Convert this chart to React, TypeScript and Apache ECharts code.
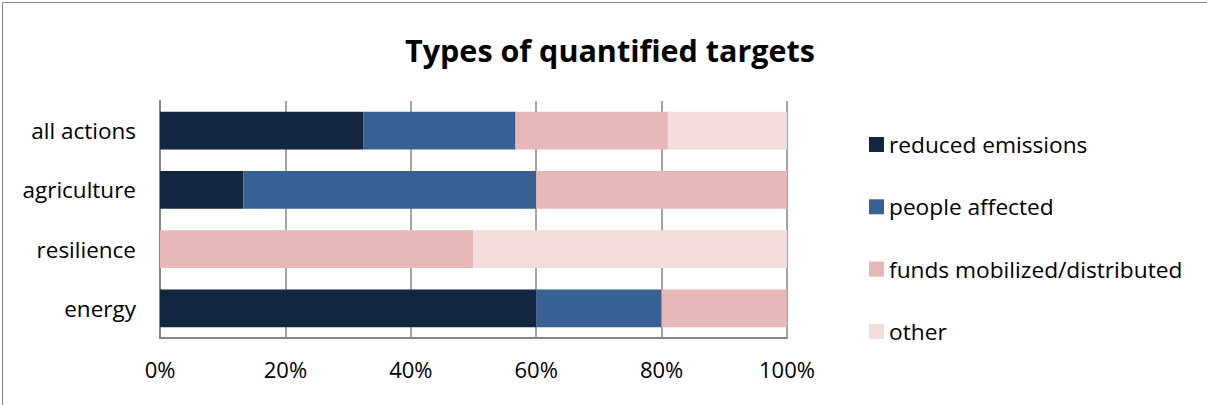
import React, { useEffect, useRef } from "react";
import * as echarts from "echarts";

const categories = ["all actions", "agriculture", "resilience", "energy"];
const seriesNames = ["reduced emissions", "people affected", "funds mobilized/distributed", "other"];
const reducedEmissions = [32.4, 13.3, 0, 60];
const peopleAffected = [24.3, 46.7, 0, 20];
const fundsMobilized = [24.3, 40, 50, 20];
const other = [19.0, 0, 50, 0];
const colors = ["#132640", "#376193", "#e6b8b8", "#f2dcdc"];
const FONT = "Open Sans";

export default function App() {
  const ref = useRef<HTMLDivElement>(null);
  useEffect(() => {
    if (!ref.current) return;
    const chart = echarts.init(ref.current, null, { renderer: "svg" });
    const values = [reducedEmissions, peopleAffected, fundsMobilized, other];
    chart.setOption({
      animation: false,
      backgroundColor: "#ffffff",
      title: {
        text: "Types of quantified targets",
        left: 605,
        textAlign: "center",
        top: 29,
        textStyle: { fontFamily: FONT, fontSize: 30.5, fontWeight: "bold", color: "#000" },
      },
      graphic: [
        {
          type: "rect",
          shape: { x: 2.5, y: 2.5, width: 1210, height: 410 },
          style: { fill: "none", stroke: "#868686", lineWidth: 1 },
          silent: true,
        },
      ],
      legend: {
        orient: "vertical",
        left: 864,
        top: 128,
        itemWidth: 15,
        itemHeight: 15,
        itemGap: 39.3,
        icon: "rect",
        textStyle: { fontFamily: FONT, fontSize: 22.7, color: "#000", lineHeight: 23, padding: [0, 0, 0, 0] },
        data: seriesNames,
      },
      grid: { left: 160, top: 101, width: 627, height: 237, containLabel: false },
      xAxis: {
        type: "value",
        min: 0,
        max: 100,
        interval: 20,
        axisLabel: {
          formatter: "{value}%",
          fontFamily: FONT,
          fontSize: 22,
          color: "#000",
          margin: 20,
        },
        axisLine: { show: true, lineStyle: { color: "#868686", width: 2 } },
        axisTick: { show: false },
        splitLine: { show: true, lineStyle: { color: "#868686", width: 1.5 } },
      },
      yAxis: {
        type: "category",
        inverse: true,
        data: categories,
        axisLabel: { fontFamily: FONT, fontSize: 22.5, color: "#000", margin: 24 },
        axisLine: { show: true, lineStyle: { color: "#868686", width: 2 } },
        axisTick: { show: false },
      },
      series: seriesNames.map((name, i) => ({
        name,
        type: "bar",
        stack: "total",
        data: values[i],
        barCategoryGap: "36%",
        itemStyle: { color: colors[i] },
      })),
    });
    return () => chart.dispose();
  }, []);
  return (
    <div
      ref={ref}
      style={{ position: "fixed", left: 0, top: 0, width: 1207, height: 405 }}
    />
  );
}
